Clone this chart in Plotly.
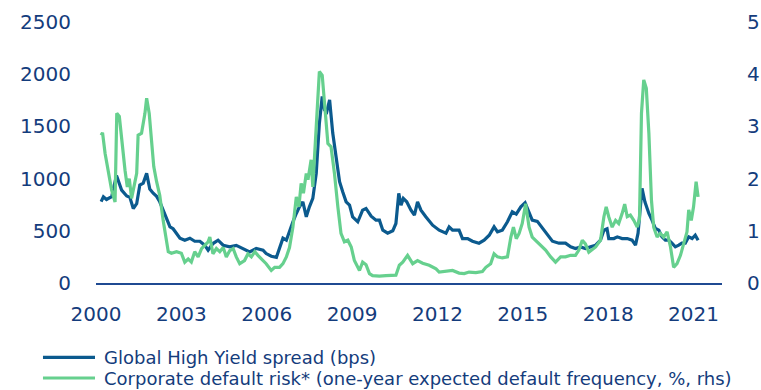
import plotly.graph_objects as go

hy_years = [2000.18, 2000.26, 2000.37, 2000.55, 2000.72, 2000.90, 2001.08, 2001.19, 2001.31, 2001.43,
            2001.54, 2001.66, 2001.78, 2001.89, 2002.01, 2002.13, 2002.24, 2002.36, 2002.48, 2002.60,
            2002.71, 2002.83, 2002.95, 2003.12, 2003.30, 2003.47, 2003.65, 2003.82, 2003.94, 2004.11,
            2004.29, 2004.47, 2004.70, 2004.93, 2005.17, 2005.40, 2005.63, 2005.87, 2005.98, 2006.16,
            2006.34, 2006.45, 2006.57, 2006.69, 2006.80, 2006.92, 2007.04, 2007.15, 2007.27, 2007.39,
            2007.50, 2007.62, 2007.74, 2007.85, 2007.95, 2008.03, 2008.11, 2008.21, 2008.32, 2008.44,
            2008.56, 2008.67, 2008.79, 2008.91, 2009.02, 2009.20, 2009.37, 2009.49, 2009.67, 2009.84,
            2009.96, 2010.08, 2010.25, 2010.43, 2010.54, 2010.64, 2010.72, 2010.80, 2010.92, 2011.07,
            2011.19, 2011.30, 2011.42, 2011.59, 2011.83, 2012.06, 2012.30, 2012.41, 2012.53, 2012.76,
            2012.88, 2013.06, 2013.23, 2013.46, 2013.64, 2013.82, 2013.99, 2014.11, 2014.28, 2014.46,
            2014.63, 2014.77, 2014.93, 2015.08, 2015.22, 2015.33, 2015.51, 2015.69, 2015.86, 2016.04,
            2016.27, 2016.50, 2016.68, 2016.85, 2017.03, 2017.20, 2017.38, 2017.56, 2017.73, 2017.85,
            2017.96, 2018.02, 2018.20, 2018.32, 2018.49, 2018.67, 2018.84, 2018.96, 2019.05, 2019.19,
            2019.29, 2019.43, 2019.54, 2019.66, 2019.78, 2019.89, 2020.01, 2020.13, 2020.24, 2020.36,
            2020.48, 2020.59, 2020.71, 2020.83, 2020.95, 2021.06, 2021.16]
hy_spread = [780, 826, 800, 826, 1030, 890, 833, 820, 714, 760,
             938, 957, 1050, 900, 860, 830, 778, 698, 602, 538,
             520, 477, 429, 410, 429, 400, 400, 362, 314, 378,
             410, 362, 346, 360, 330, 298, 330, 315, 282, 256,
             246, 330, 429, 410, 506, 586, 666, 730, 778, 634,
             730, 810, 1050, 1530, 1786, 1658, 1640, 1754, 1436, 1178,
             970, 874, 778, 746, 634, 586, 698, 714, 640, 602,
             602, 506, 477, 500, 570, 858, 746, 810, 778, 698,
             650, 778, 698, 634, 554, 506, 477, 538, 506, 506,
             426, 426, 400, 381, 410, 458, 538, 490, 506, 586,
             682, 660, 730, 768, 666, 602, 590, 522, 458, 400,
             381, 381, 346, 330, 346, 330, 346, 362, 410, 506,
             520, 426, 426, 442, 426, 426, 410, 362, 477, 906,
             778, 666, 602, 522, 506, 442, 410, 410, 381, 346,
             362, 381, 381, 442, 426, 458, 410]

edf_years = [2000.18, 2000.23, 2000.32, 2000.43, 2000.55, 2000.67, 2000.73, 2000.82, 2000.90, 2001.02,
             2001.10, 2001.17, 2001.25, 2001.31, 2001.43, 2001.48, 2001.60, 2001.72, 2001.78, 2001.87,
             2001.95, 2002.03, 2002.13, 2002.24, 2002.36, 2002.48, 2002.54, 2002.65, 2002.83, 2003.00,
             2003.12, 2003.24, 2003.35, 2003.47, 2003.59, 2003.71, 2003.82, 2003.94, 2004.00, 2004.11,
             2004.23, 2004.35, 2004.47, 2004.58, 2004.70, 2004.82, 2004.93, 2005.05, 2005.22, 2005.34,
             2005.46, 2005.58, 2005.69, 2005.87, 2005.98, 2006.16, 2006.28, 2006.45, 2006.57, 2006.69,
             2006.80, 2006.92, 2007.04, 2007.13, 2007.21, 2007.29, 2007.39, 2007.45, 2007.56, 2007.62,
             2007.74, 2007.85, 2007.95, 2008.03, 2008.15, 2008.26, 2008.38, 2008.50, 2008.61, 2008.73,
             2008.85, 2008.97, 2009.08, 2009.26, 2009.37, 2009.49, 2009.61, 2009.72, 2009.96, 2010.19,
             2010.54, 2010.66, 2010.78, 2010.95, 2011.13, 2011.30, 2011.48, 2011.71, 2011.95, 2012.06,
             2012.30, 2012.53, 2012.76, 2012.94, 2013.11, 2013.35, 2013.58, 2013.70, 2013.87, 2013.99,
             2014.11, 2014.28, 2014.46, 2014.58, 2014.67, 2014.77, 2014.87, 2014.98, 2015.10, 2015.22,
             2015.33, 2015.57, 2015.80, 2015.98, 2016.15, 2016.33, 2016.50, 2016.68, 2016.85, 2016.97,
             2017.09, 2017.20, 2017.32, 2017.56, 2017.73, 2017.85, 2017.93, 2018.02, 2018.14, 2018.26,
             2018.37, 2018.49, 2018.58, 2018.67, 2018.78, 2018.90, 2019.02, 2019.10, 2019.17, 2019.25,
             2019.34, 2019.43, 2019.52, 2019.60, 2019.72, 2019.83, 2019.95, 2020.07, 2020.19, 2020.30,
             2020.42, 2020.54, 2020.65, 2020.77, 2020.83, 2020.92, 2021.00, 2021.09, 2021.16]
edf_risk = [2.83, 2.88, 2.48, 2.10, 1.78, 1.55, 3.25, 3.19, 2.74, 2.16,
            1.84, 2.00, 1.62, 1.78, 2.10, 2.83, 2.87, 3.25, 3.54, 3.25,
            2.67, 2.23, 1.94, 1.68, 1.20, 0.82, 0.60, 0.57, 0.60, 0.57,
            0.40, 0.46, 0.40, 0.60, 0.50, 0.66, 0.72, 0.79, 0.88, 0.56,
            0.66, 0.60, 0.68, 0.50, 0.62, 0.66, 0.50, 0.37, 0.43, 0.56,
            0.50, 0.60, 0.53, 0.43, 0.37, 0.24, 0.30, 0.30, 0.37, 0.50,
            0.68, 1.07, 1.65, 1.46, 1.91, 1.72, 2.10, 1.98, 2.36, 1.84,
            2.87, 4.05, 3.98, 3.52, 2.67, 2.61, 2.10, 1.46, 0.95, 0.79,
            0.82, 0.69, 0.43, 0.24, 0.40, 0.35, 0.18, 0.14, 0.13, 0.14,
            0.15, 0.34, 0.40, 0.53, 0.37, 0.43, 0.38, 0.34, 0.27, 0.21,
            0.22, 0.24, 0.19, 0.18, 0.21, 0.20, 0.22, 0.30, 0.37, 0.56,
            0.50, 0.48, 0.50, 0.88, 1.07, 0.85, 0.95, 1.14, 1.52, 1.07,
            0.88, 0.75, 0.63, 0.50, 0.40, 0.50, 0.50, 0.53, 0.53, 0.63,
            0.82, 0.75, 0.59, 0.69, 0.82, 1.27, 1.46, 1.27, 1.07, 1.20,
            1.14, 1.33, 1.51, 1.27, 1.30, 1.20, 1.07, 1.22, 3.25, 3.89,
            3.73, 2.87, 1.59, 1.07, 0.88, 0.95, 0.88, 0.98, 0.69, 0.30,
            0.37, 0.53, 0.75, 0.98, 1.40, 1.20, 1.46, 1.94, 1.65]

x_ticks = [2000, 2003, 2006, 2009, 2012, 2015, 2018, 2021]
left_ticks = [0, 500, 1000, 1500, 2000, 2500]
right_ticks = [0, 1, 2, 3, 4, 5]
series_names = ["Global High Yield spread (bps)",
                "Corporate default risk* (one-year expected default frequency, %, rhs)"]

BLUE = "#0b5a8e"
GREEN = "#66d08e"
NAVY = "#143c7c"
FONT = "DejaVu Sans"

fig = go.Figure()
fig.add_trace(go.Scatter(x=hy_years, y=hy_spread, mode="lines", name=series_names[0],
                         line=dict(color=BLUE, width=3.2), yaxis="y"))
fig.add_trace(go.Scatter(x=edf_years, y=edf_risk, mode="lines", name=series_names[1],
                         line=dict(color=GREEN, width=3.2), yaxis="y2"))

# manual legend (below the plot, left aligned)
legend_rows = [(series_names[0], BLUE, -0.285), (series_names[1], GREEN, -0.364)]
for text, color, yy in legend_rows:
    fig.add_shape(type="line", xref="paper", yref="paper", x0=-0.0847, x1=-0.0016, y0=yy, y1=yy,
                  line=dict(color=color, width=3.2))
    fig.add_annotation(xref="paper", yref="paper", x=0.0096, y=yy, text=text, showarrow=False,
                       xanchor="left", yanchor="middle", font=dict(size=18, color=NAVY, family=FONT))

fig.update_layout(
    width=761, height=390,
    margin=dict(l=96, r=39, t=22, b=107),
    paper_bgcolor="white", plot_bgcolor="white",
    font=dict(family=FONT, color=NAVY),
    showlegend=False,
    xaxis=dict(range=[2000, 2022], tickvals=x_ticks, ticktext=[str(t) for t in x_ticks],
               showgrid=False, zeroline=False, showline=True, linecolor="#1f4a92", linewidth=2,
               ticks="", tickfont=dict(size=20, color=NAVY, family=FONT), ticklabelstandoff=12,
               automargin=False),
    yaxis=dict(range=[0, 2500], tickvals=left_ticks, showgrid=False, zeroline=False, showline=False,
               ticks="", tickfont=dict(size=20, color=NAVY, family=FONT), ticklabelstandoff=24,
               automargin=False),
    yaxis2=dict(range=[0, 5], tickvals=right_ticks, overlaying="y", side="right", showgrid=False,
                zeroline=False, showline=False, ticks="",
                tickfont=dict(size=20, color=NAVY, family=FONT), ticklabelstandoff=24,
                automargin=False),
)

fig.write_html("out.html")
